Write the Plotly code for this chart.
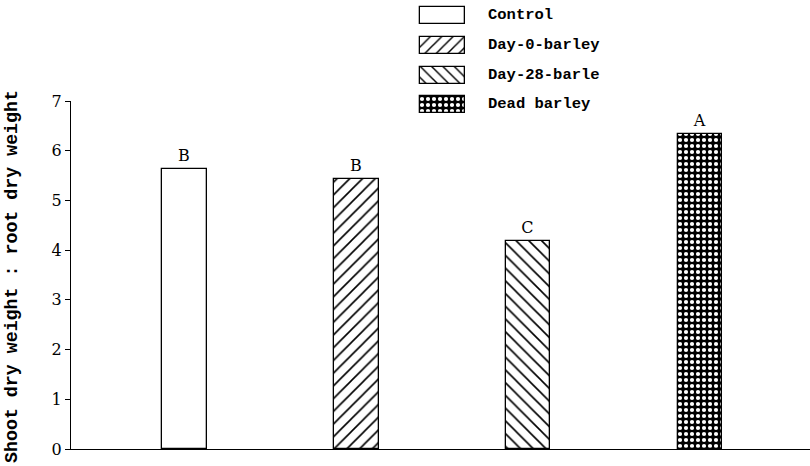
import plotly.graph_objects as go

categories = ["Control", "Day-0-barley", "Day-28-barle", "Dead barley"]
ratios = [5.63, 5.43, 4.19, 6.34]
letters = ["B", "B", "C", "A"]
y_ticks = [0, 1, 2, 3, 4, 5, 6, 7]
y_title = "Shoot dry weight : root dry weight"

shapes_ = ["", "/", "\\", "."]
sizes_ = [9, 9, 9, 6]
solid_ = [0.18, 0.18, 0.18, 0.38]
fg_ = ["black", "black", "black", "white"]
bg_ = ["white", "white", "white", "black"]

W, H = 810, 466
ML, MB = 71, 17

fig = go.Figure()
xs = list(range(len(categories)))
for i, (c, v, t) in enumerate(zip(categories, ratios, letters)):
    fig.add_trace(go.Bar(
        x=[xs[i]], y=[v], text=[t], textposition="outside",
        textfont=dict(family="DejaVu Serif", size=16, color="black"),
        cliponaxis=False, width=0.26,
        marker=dict(color=bg_[i], line=dict(color="black", width=1.3),
                    pattern=dict(shape=shapes_[i], fgcolor=fg_[i], bgcolor=bg_[i],
                                 size=sizes_[i], solidity=solid_[i], fillmode="replace")),
        showlegend=False, xaxis="x", yaxis="y"))

# custom legend on a pixel-coordinate overlay axis (page pixels)
leg_y = [15, 45, 75, 104]
for i, c in enumerate(categories):
    fig.add_trace(go.Bar(
        y=[leg_y[i]], x=[45], base=[420], orientation="h", width=17,
        marker=dict(color=bg_[i], line=dict(color="black", width=1.3),
                    pattern=dict(shape=shapes_[i], fgcolor=fg_[i], bgcolor=bg_[i],
                                 size=sizes_[i] - 1 if i < 3 else 6, solidity=solid_[i],
                                 fillmode="replace")),
        showlegend=False, xaxis="x2", yaxis="y2", hoverinfo="skip"))
    fig.add_annotation(x=486, y=leg_y[i], xref="x2", yref="y2", text=c, showarrow=False,
                       xanchor="left", yanchor="middle",
                       font=dict(family="Liberation Mono", size=15.5, color="black", weight="bold"))

# y-axis title placed in paper coordinates (left of the plot area)
fig.add_annotation(x=(12 - ML) / (W - ML), y=(H - MB - 277) / (H - MB), xref="paper", yref="paper",
                   text=y_title, showarrow=False, textangle=-90,
                   xanchor="center", yanchor="middle",
                   font=dict(family="Liberation Mono", size=18.3, color="black", weight="bold"))

fig.update_layout(
    width=W, height=H,
    margin=dict(l=ML, r=0, t=0, b=MB, autoexpand=False),
    paper_bgcolor="white", plot_bgcolor="rgba(0,0,0,0)",
    bargap=0, showlegend=False,
    xaxis=dict(domain=[0, 1], range=[-0.66, 3.64], showticklabels=False, ticks="",
               showgrid=False, zeroline=False, showline=True, linecolor="black", linewidth=1,
               anchor="y", automargin=False),
    yaxis=dict(domain=[0, 348 / 449], range=[0, 7], tickvals=y_ticks, ticks="outside",
               ticklen=5, tickcolor="black", showgrid=False, zeroline=False, showline=True,
               linecolor="black", linewidth=1, anchor="x", automargin=False,
               tickfont=dict(family="DejaVu Serif", size=16, color="black")),
    xaxis2=dict(domain=[0, 1], range=[71, 810], visible=False, showticklabels=False,
                anchor="y2", automargin=False),
    yaxis2=dict(domain=[0, 1], range=[449, 0], visible=False, showticklabels=False,
                anchor="x2", automargin=False),
)

fig.write_html("out.html", config={"displayModeBar": False},
               post_script="document.body.style.margin='0';document.body.style.overflow='hidden';")
